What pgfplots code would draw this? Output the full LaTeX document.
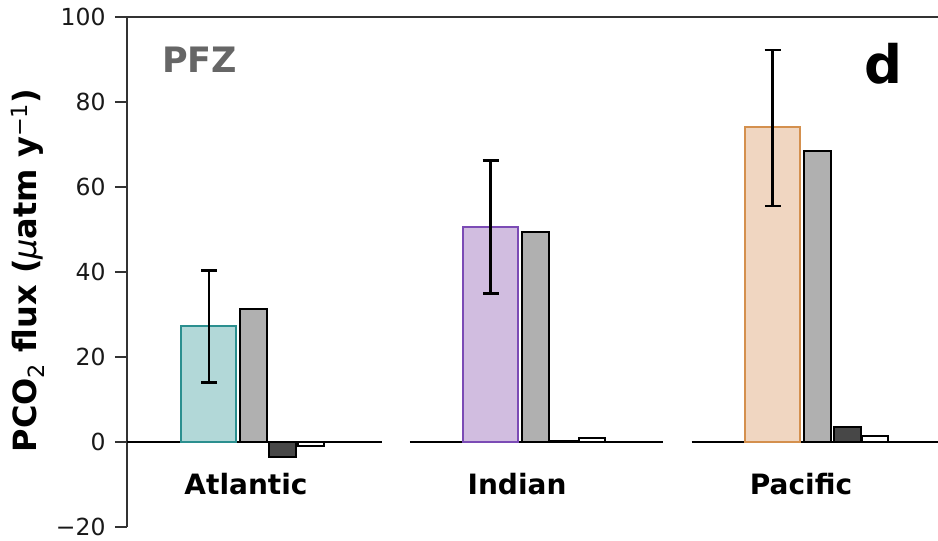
\documentclass[border=0pt]{standalone}
\usepackage{pgfplots}
\pgfplotsset{compat=1.18}
\usepackage{fontspec}
\setmainfont{DejaVu Sans}
\definecolor{tealfill}{HTML}{B2D8D8}
\definecolor{tealedge}{HTML}{2B8F8F}
\definecolor{purpfill}{HTML}{D1BDE0}
\definecolor{purpedge}{HTML}{7B4BB5}
\definecolor{orfill}{HTML}{F0D6C1}
\definecolor{oredge}{HTML}{D4904E}
\definecolor{midgray}{HTML}{B0B0B0}
\definecolor{darkgray}{HTML}{474747}
\definecolor{spine}{HTML}{333333}
\begin{document}
\begin{tikzpicture}
\begin{axis}[
  name=ax,
  width=811pt, height=510pt, scale only axis,
  xmin=-0.28901, xmax=2.58688,
  ymin=-20, ymax=100,
  axis y line*=left,
  axis x line=none,
  clip=false,
  y axis line style={draw=spine, line width=1.8pt},
  ytick={-20,0,20,40,60,80,100},
  yticklabels={−20,0,20,40,60,80,100},
  yticklabel style={font=\fontsize{23.5}{23.5}\selectfont, text=black!90, xshift=-6pt},
  tick align=outside,
  major tick length=12pt,
  ytick style={draw=spine, line width=1.8pt},
  ylabel={\bfseries PCO\textsubscript{\mdseries 2} flux ({\mdseries\itshape μ}atm y\textsuperscript{\mdseries −1})},
  ylabel style={font=\fontsize{32}{32}\selectfont, at={(axis description cs:0,0.503)}, yshift=99pt, anchor=center},
]
% zero lines
\addplot[black, line width=2.2pt, forget plot] coordinates {(-0.28901,0) (0.6152,0)};
\addplot[black, line width=2.2pt, forget plot] coordinates {(0.7145,0) (1.6117,0)};
\addplot[black, line width=2.2pt, forget plot] coordinates {(1.7128,0) (2.58688,0)};
% colored bars
\addplot[ybar, bar width=55pt, bar shift=0pt, fill=tealfill, draw=tealedge, line width=2pt] coordinates {(0,27.3)};
\addplot[ybar, bar width=55pt, bar shift=0pt, fill=purpfill, draw=purpedge, line width=2pt] coordinates {(1,50.6)};
\addplot[ybar, bar width=55pt, bar shift=0pt, fill=orfill, draw=oredge, line width=2pt] coordinates {(2,74.0)};
% gray bars
\addplot[ybar, bar width=27pt, bar shift=0pt, fill=midgray, draw=black, line width=2pt] coordinates {(0.16,31.3) (1.16,49.3) (2.161,68.5)};
% dark bars
\addplot[ybar, bar width=27pt, bar shift=0pt, fill=darkgray, draw=black, line width=2pt] coordinates {(0.2624,-3.6) (1.2624,0.2) (2.2642,3.6)};
% white bars
\addplot[ybar, bar width=26pt, bar shift=0pt, fill=white, draw=black, line width=2pt] coordinates {(0.3635,-0.9) (1.3585,0.9) (2.3617,1.5)};
% error bars
\addplot[draw=none, mark=none,
  error bars/.cd, y dir=both, y explicit,
  error bar style={draw=black, line width=2.6pt},
  error mark options={draw=black, rotate=90, mark size=8pt, line width=2.6pt}]
  coordinates {(0.0018,27.15) +- (0,13.15) (1.0007,50.6) +- (0,15.6) (2.0007,73.85) +- (0,18.35)};
% top spine
\draw[spine, line width=1.8pt] (rel axis cs:0,1) -- (rel axis cs:1,1);
% labels
\node[anchor=base, font=\fontsize{28}{28}\selectfont\bfseries] at (axis cs:0.133,-12.24) {Atlantic};
\node[anchor=base, font=\fontsize{28}{28}\selectfont\bfseries] at (axis cs:1.094,-12.24) {Indian};
\node[anchor=base, font=\fontsize{28}{28}\selectfont\bfseries] at (axis cs:2.1011,-12.24) {Pacific};
\node[anchor=base west, inner sep=0pt, font=\fontsize{35}{35}\selectfont\bfseries, text=black!60] at (axis cs:-0.165,86.9) {PFZ};
\node[anchor=base west, inner sep=0pt, font=\fontsize{53}{53}\selectfont\bfseries] at (axis cs:2.3245,84.4) {d};
\end{axis}
\pgfresetboundingbox
\path[use as bounding box] ([xshift=-127pt,yshift=-14pt]ax.south west) rectangle ([yshift=17pt]ax.north east);
\end{tikzpicture}
\end{document}
